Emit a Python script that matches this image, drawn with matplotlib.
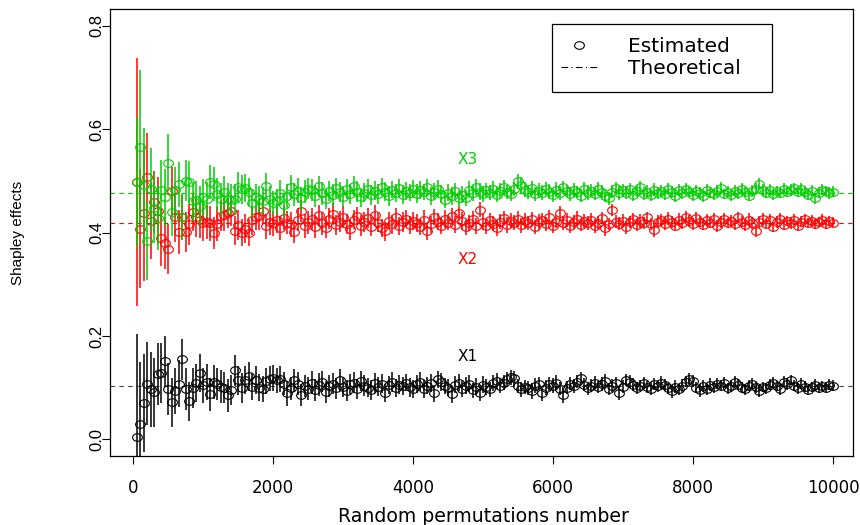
import numpy as np
import matplotlib
matplotlib.use("Agg")
import matplotlib.pyplot as plt
from matplotlib.path import Path
from matplotlib.lines import Line2D
from matplotlib.patches import Rectangle

# number of random permutations (x axis)
n_perm = list(range(50, 10001, 50))

# estimated Shapley effects
x1_est = [
    0.004, 0.029, 0.070, 0.108, 0.097, 0.091, 0.126, 0.128, 0.152, 0.097,
    0.072, 0.094, 0.108, 0.155, 0.097, 0.074, 0.100, 0.109, 0.128, 0.105,
    0.111, 0.087, 0.111, 0.108, 0.102, 0.100, 0.085, 0.096, 0.134, 0.114,
    0.100, 0.114, 0.122, 0.102, 0.114, 0.100, 0.097, 0.113, 0.117, 0.118,
    0.114, 0.117, 0.108, 0.089, 0.099, 0.114, 0.108, 0.086, 0.104, 0.098,
    0.110, 0.095, 0.106, 0.112, 0.092, 0.103, 0.108, 0.099, 0.115, 0.101,
    0.094, 0.107, 0.110, 0.097, 0.113, 0.104, 0.100, 0.096, 0.109, 0.102,
    0.108, 0.090, 0.105, 0.111, 0.099, 0.106, 0.103, 0.110, 0.101, 0.097,
    0.107, 0.112, 0.098, 0.104, 0.109, 0.089, 0.116, 0.111, 0.103, 0.100,
    0.087, 0.106, 0.110, 0.098, 0.104, 0.108, 0.095, 0.102, 0.090, 0.106,
    0.101, 0.097, 0.109, 0.113, 0.104, 0.110, 0.116, 0.120, 0.118, 0.103,
    0.097, 0.101, 0.099, 0.094, 0.104, 0.108, 0.089, 0.100, 0.107, 0.104,
    0.110, 0.098, 0.085, 0.100, 0.108, 0.103, 0.112, 0.118, 0.106, 0.099,
    0.104, 0.110, 0.101, 0.107, 0.113, 0.098, 0.104, 0.109, 0.089, 0.102,
    0.115, 0.112, 0.106, 0.100, 0.104, 0.109, 0.101, 0.098, 0.107, 0.103,
    0.110, 0.105, 0.099, 0.093, 0.102, 0.097, 0.104, 0.112, 0.117, 0.113,
    0.100, 0.095, 0.103, 0.097, 0.106, 0.101, 0.108, 0.104, 0.110, 0.099,
    0.103, 0.112, 0.106, 0.100, 0.097, 0.104, 0.108, 0.101, 0.094, 0.102,
    0.099, 0.106, 0.110, 0.103, 0.097, 0.112, 0.107, 0.115, 0.104, 0.099,
    0.108, 0.102, 0.096, 0.101, 0.105, 0.099, 0.103, 0.100, 0.106, 0.104,
]
x2_est = [
    0.497, 0.407, 0.437, 0.508, 0.423, 0.459, 0.442, 0.390, 0.380, 0.368,
    0.481, 0.429, 0.401, 0.429, 0.401, 0.416, 0.439, 0.430, 0.424, 0.419,
    0.420, 0.418, 0.399, 0.416, 0.432, 0.434, 0.438, 0.442, 0.403, 0.415,
    0.400, 0.407, 0.400, 0.424, 0.429, 0.431, 0.442, 0.412, 0.421, 0.418,
    0.424, 0.408, 0.428, 0.419, 0.416, 0.401, 0.425, 0.442, 0.412, 0.420,
    0.426, 0.411, 0.433, 0.418, 0.409, 0.427, 0.436, 0.415, 0.421, 0.430,
    0.417, 0.406, 0.425, 0.432, 0.413, 0.420, 0.428, 0.411, 0.434, 0.419,
    0.409, 0.402, 0.423, 0.416, 0.429, 0.412, 0.420, 0.427, 0.414, 0.422,
    0.418, 0.411, 0.425, 0.402, 0.416, 0.430, 0.421, 0.413, 0.426, 0.419,
    0.431, 0.415, 0.437, 0.422, 0.410, 0.418, 0.426, 0.413, 0.444, 0.420,
    0.412, 0.424, 0.417, 0.409, 0.421, 0.428, 0.415, 0.423, 0.419, 0.426,
    0.414, 0.422, 0.418, 0.427, 0.411, 0.420, 0.425, 0.416, 0.429, 0.413,
    0.421, 0.437, 0.418, 0.424, 0.412, 0.420, 0.427, 0.415, 0.422, 0.418,
    0.425, 0.413, 0.419, 0.428, 0.408, 0.416, 0.444, 0.421, 0.417, 0.423,
    0.410, 0.420, 0.426, 0.414, 0.422, 0.418, 0.429, 0.416, 0.405, 0.421,
    0.424, 0.417, 0.427, 0.420, 0.413, 0.425, 0.419, 0.430, 0.422, 0.416,
    0.428, 0.421, 0.415, 0.424, 0.419, 0.426, 0.413, 0.420, 0.427, 0.418,
    0.423, 0.416, 0.429, 0.421, 0.414, 0.425, 0.418, 0.402, 0.420, 0.426,
    0.417, 0.424, 0.411, 0.420, 0.427, 0.415, 0.422, 0.418, 0.425, 0.413,
    0.421, 0.426, 0.418, 0.423, 0.416, 0.420, 0.424, 0.417, 0.422, 0.419,
]
x3_est = [
    0.497, 0.565, 0.492, 0.384, 0.484, 0.447, 0.428, 0.483, 0.468, 0.535,
    0.440, 0.482, 0.493, 0.430, 0.500, 0.498, 0.460, 0.463, 0.452, 0.469,
    0.464, 0.498, 0.493, 0.474, 0.464, 0.478, 0.465, 0.463, 0.464, 0.487,
    0.484, 0.486, 0.478, 0.457, 0.468, 0.464, 0.460, 0.490, 0.465, 0.457,
    0.460, 0.477, 0.454, 0.470, 0.488, 0.474, 0.481, 0.466, 0.479, 0.485,
    0.482, 0.471, 0.489, 0.476, 0.465, 0.480, 0.473, 0.486, 0.478, 0.469,
    0.484, 0.475, 0.490, 0.479, 0.468, 0.477, 0.485, 0.472, 0.481, 0.474,
    0.488, 0.479, 0.470, 0.483, 0.476, 0.486, 0.473, 0.480, 0.477, 0.484,
    0.475, 0.482, 0.478, 0.487, 0.471, 0.479, 0.485, 0.474, 0.463, 0.477,
    0.470, 0.481, 0.466, 0.473, 0.467, 0.483, 0.476, 0.488, 0.479, 0.474,
    0.482, 0.477, 0.485, 0.473, 0.480, 0.487, 0.478, 0.475, 0.484, 0.499,
    0.492, 0.483, 0.478, 0.486, 0.474, 0.481, 0.477, 0.485, 0.479, 0.472,
    0.483, 0.476, 0.487, 0.480, 0.474, 0.482, 0.478, 0.471, 0.485, 0.477,
    0.481, 0.475, 0.484, 0.478, 0.470, 0.466, 0.479, 0.486, 0.476, 0.482,
    0.477, 0.484, 0.473, 0.480, 0.487, 0.475, 0.479, 0.472, 0.483, 0.476,
    0.480, 0.474, 0.485, 0.478, 0.471, 0.482, 0.476, 0.484, 0.479, 0.473,
    0.481, 0.476, 0.470, 0.483, 0.477, 0.474, 0.480, 0.486, 0.475, 0.479,
    0.472, 0.481, 0.476, 0.484, 0.478, 0.471, 0.480, 0.485, 0.494, 0.482,
    0.477, 0.483, 0.474, 0.480, 0.476, 0.485, 0.479, 0.482, 0.486, 0.478,
    0.484, 0.479, 0.473, 0.481, 0.466, 0.477, 0.483, 0.480, 0.476, 0.479,
]

# half-widths of the confidence intervals
x1_err = [
    0.200, 0.120, 0.095, 0.080, 0.072, 0.066, 0.060, 0.058, 0.048, 0.050,
    0.047, 0.044, 0.045, 0.040, 0.041, 0.038, 0.039, 0.036, 0.037, 0.034,
    0.035, 0.032, 0.033, 0.031, 0.032, 0.030, 0.031, 0.029, 0.030, 0.028,
    0.029, 0.027, 0.028, 0.026, 0.027, 0.026, 0.025, 0.026, 0.024, 0.025,
    0.024, 0.025, 0.023, 0.024, 0.022, 0.023, 0.023, 0.022, 0.021, 0.022,
    0.022, 0.021, 0.022, 0.020, 0.021, 0.021, 0.020, 0.020, 0.021, 0.019,
    0.020, 0.019, 0.020, 0.019, 0.019, 0.020, 0.018, 0.019, 0.019, 0.018,
    0.019, 0.018, 0.018, 0.019, 0.017, 0.018, 0.018, 0.017, 0.018, 0.017,
    0.017, 0.018, 0.017, 0.016, 0.017, 0.017, 0.016, 0.017, 0.016, 0.016,
    0.016, 0.017, 0.016, 0.015, 0.016, 0.016, 0.015, 0.016, 0.015, 0.016,
    0.015, 0.015, 0.016, 0.015, 0.014, 0.015, 0.015, 0.014, 0.015, 0.014,
    0.015, 0.014, 0.014, 0.015, 0.014, 0.013, 0.014, 0.014, 0.013, 0.014,
    0.014, 0.013, 0.014, 0.013, 0.013, 0.014, 0.013, 0.013, 0.012, 0.013,
    0.013, 0.013, 0.012, 0.013, 0.013, 0.012, 0.013, 0.012, 0.013, 0.012,
    0.012, 0.013, 0.012, 0.012, 0.011, 0.012, 0.012, 0.013, 0.012, 0.011,
    0.012, 0.012, 0.011, 0.012, 0.012, 0.011, 0.012, 0.011, 0.012, 0.011,
    0.011, 0.012, 0.011, 0.011, 0.012, 0.011, 0.011, 0.010, 0.011, 0.011,
    0.011, 0.011, 0.010, 0.011, 0.011, 0.011, 0.010, 0.011, 0.011, 0.010,
    0.011, 0.010, 0.011, 0.010, 0.011, 0.010, 0.011, 0.010, 0.010, 0.011,
    0.010, 0.011, 0.010, 0.010, 0.011, 0.010, 0.010, 0.011, 0.010, 0.010,
]
x2_err = [
    0.240, 0.115, 0.130, 0.085, 0.075, 0.060, 0.065, 0.055, 0.050, 0.048,
    0.045, 0.047, 0.042, 0.043, 0.039, 0.040, 0.037, 0.038, 0.035, 0.036,
    0.033, 0.034, 0.031, 0.033, 0.030, 0.032, 0.029, 0.030, 0.028, 0.029,
    0.027, 0.028, 0.026, 0.028, 0.025, 0.027, 0.026, 0.024, 0.026, 0.024,
    0.025, 0.023, 0.024, 0.022, 0.024, 0.022, 0.023, 0.021, 0.023, 0.022,
    0.021, 0.022, 0.020, 0.022, 0.020, 0.021, 0.021, 0.019, 0.020, 0.021,
    0.019, 0.020, 0.019, 0.018, 0.020, 0.019, 0.019, 0.018, 0.019, 0.018,
    0.018, 0.019, 0.017, 0.018, 0.018, 0.017, 0.019, 0.017, 0.017, 0.018,
    0.017, 0.016, 0.018, 0.017, 0.016, 0.016, 0.017, 0.016, 0.017, 0.015,
    0.016, 0.016, 0.015, 0.017, 0.015, 0.016, 0.016, 0.015, 0.015, 0.016,
    0.015, 0.014, 0.015, 0.016, 0.015, 0.014, 0.015, 0.015, 0.014, 0.015,
    0.014, 0.015, 0.014, 0.013, 0.014, 0.015, 0.013, 0.014, 0.014, 0.013,
    0.013, 0.014, 0.013, 0.014, 0.012, 0.013, 0.014, 0.012, 0.013, 0.013,
    0.012, 0.013, 0.013, 0.012, 0.014, 0.012, 0.012, 0.013, 0.012, 0.013,
    0.013, 0.012, 0.011, 0.012, 0.013, 0.012, 0.011, 0.012, 0.013, 0.012,
    0.011, 0.012, 0.012, 0.011, 0.011, 0.012, 0.012, 0.011, 0.011, 0.012,
    0.012, 0.011, 0.011, 0.012, 0.010, 0.011, 0.012, 0.011, 0.011, 0.010,
    0.010, 0.011, 0.011, 0.010, 0.011, 0.012, 0.011, 0.010, 0.011, 0.011,
    0.010, 0.011, 0.010, 0.011, 0.010, 0.011, 0.010, 0.011, 0.011, 0.010,
    0.011, 0.010, 0.010, 0.011, 0.010, 0.010, 0.011, 0.010, 0.010, 0.011,
]
x3_err = [
    0.125, 0.150, 0.110, 0.075, 0.080, 0.068, 0.062, 0.057, 0.055, 0.055,
    0.046, 0.045, 0.043, 0.044, 0.040, 0.041, 0.038, 0.037, 0.038, 0.035,
    0.034, 0.033, 0.033, 0.031, 0.031, 0.032, 0.030, 0.030, 0.029, 0.029,
    0.028, 0.028, 0.027, 0.027, 0.026, 0.026, 0.027, 0.025, 0.025, 0.024,
    0.024, 0.024, 0.023, 0.023, 0.023, 0.022, 0.024, 0.022, 0.022, 0.021,
    0.022, 0.021, 0.021, 0.022, 0.020, 0.020, 0.021, 0.020, 0.019, 0.020,
    0.020, 0.019, 0.019, 0.020, 0.018, 0.019, 0.018, 0.019, 0.018, 0.019,
    0.017, 0.018, 0.019, 0.017, 0.018, 0.017, 0.018, 0.018, 0.017, 0.017,
    0.018, 0.017, 0.016, 0.017, 0.017, 0.016, 0.016, 0.017, 0.015, 0.016,
    0.017, 0.015, 0.016, 0.016, 0.015, 0.016, 0.015, 0.016, 0.016, 0.015,
    0.014, 0.015, 0.015, 0.014, 0.016, 0.015, 0.014, 0.015, 0.014, 0.015,
    0.015, 0.014, 0.013, 0.014, 0.014, 0.014, 0.015, 0.013, 0.014, 0.013,
    0.014, 0.013, 0.013, 0.012, 0.014, 0.013, 0.012, 0.013, 0.013, 0.014,
    0.013, 0.012, 0.013, 0.013, 0.012, 0.013, 0.012, 0.012, 0.013, 0.012,
    0.012, 0.012, 0.013, 0.011, 0.012, 0.012, 0.013, 0.011, 0.012, 0.012,
    0.012, 0.011, 0.011, 0.012, 0.012, 0.011, 0.011, 0.012, 0.011, 0.012,
    0.011, 0.011, 0.012, 0.010, 0.011, 0.011, 0.011, 0.012, 0.010, 0.011,
    0.011, 0.010, 0.011, 0.011, 0.010, 0.011, 0.011, 0.010, 0.011, 0.011,
    0.010, 0.011, 0.011, 0.010, 0.010, 0.011, 0.010, 0.011, 0.010, 0.010,
    0.011, 0.010, 0.010, 0.011, 0.010, 0.011, 0.010, 0.010, 0.011, 0.010,
]

# theoretical Shapley effects
theo = [0.104, 0.419, 0.477]
names = ["X1", "X2", "X3"]
colors = ["black", "#ff0000", "#00cd00"]
label_pos = [(4780, 0.161), (4780, 0.347), (4780, 0.541)]

# slightly flattened circle, like R's pch=1 in the stretched picture
t = np.linspace(0, 2 * np.pi, 41)
ell = Path(np.column_stack([np.cos(t), 0.78 * np.sin(t)]))

fig = plt.figure(figsize=(8.6, 5.25), dpi=100)
ax = fig.add_axes([109.5 / 860, 1 - 456 / 525, (853 - 109.5) / 860, (456 - 9) / 525])

est = [x1_est, x2_est, x3_est]
err = [x1_err, x2_err, x3_err]
for k in range(3):
    ax.errorbar(n_perm, est[k], yerr=err[k], fmt="none", ecolor=colors[k],
                elinewidth=1.1, capsize=0, zorder=2 + k)
    ax.plot(n_perm, est[k], linestyle="none", marker=ell, ms=7, mfc="none",
            mec=colors[k], mew=0.8, zorder=2 + k)
    ax.axhline(theo[k], color=colors[k] if k else "#444444", lw=0.8,
               dashes=(4, 4), zorder=1)
    ax.text(label_pos[k][0], label_pos[k][1], names[k], color=colors[k],
            ha="center", va="center", fontsize=11, family="DejaVu Sans")

ax.set_xlim(-336, 10286)
ax.set_ylim(-0.032, 0.832)
ax.set_xticks([0, 2000, 4000, 6000, 8000, 10000])
ax.set_yticks([0.0, 0.2, 0.4, 0.6, 0.8])
ax.set_yticklabels(["0.0", "0.2", "0.4", "0.6", "0.8"], rotation=90,
                   va="center", family="Liberation Sans", fontsize=12)
for lab in ax.get_xticklabels():
    lab.set_family("DejaVu Sans")
    lab.set_fontsize(12)
ax.tick_params(direction="out", length=5.5, width=0.8, color="black")
ax.tick_params(axis="x", pad=11)
ax.tick_params(axis="y", pad=-1.5)
for sp in ax.spines.values():
    sp.set_linewidth(0.9)

fig.text(483 / 860, 1 - 517 / 525, "Random permutations number", ha="center",
         va="center", fontsize=13.6, family="DejaVu Sans")
fig.text(18 / 860, 1 - 233 / 525, "Shapley effects", rotation=90, ha="center",
         va="center", fontsize=11, family="Liberation Sans")

# legend: frame drawn separately, R-style box
fig.patches.append(Rectangle((552 / 860, 1 - 92 / 525), 220 / 860, 68 / 525,
                             transform=fig.transFigure, fill=False,
                             edgecolor="black", linewidth=0.9))
handles = [
    Line2D([], [], linestyle="none", marker=ell, ms=7, mfc="none", mec="black", mew=0.8),
    Line2D([], [], color="black", lw=0.8, linestyle=(0, (6, 3, 1, 3))),
]
leg = ax.legend(handles, ["Estimated", "Theoretical"], loc="upper left",
                bbox_to_anchor=(561 / 860, 1 - 37 / 525), bbox_transform=fig.transFigure,
                prop={"family": "DejaVu Sans", "size": 14.5}, frameon=False,
                handlelength=1.8, handletextpad=1.55, borderpad=0,
                labelspacing=0.15, borderaxespad=0)

fig.savefig("out.png", dpi=100)
